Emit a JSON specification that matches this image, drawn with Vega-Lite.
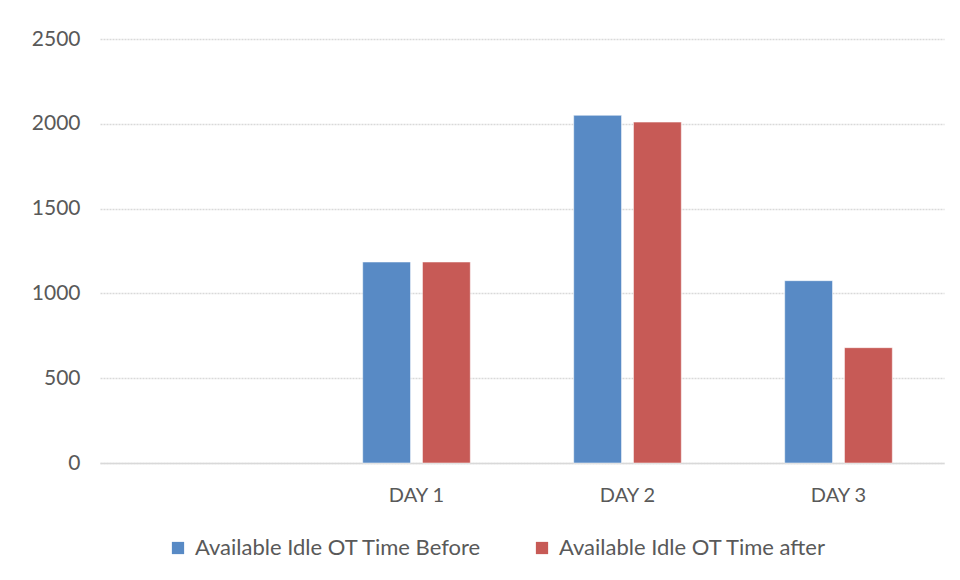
{
  "$schema": "https://vega.github.io/schema/vega-lite/v6.json",
  "width": 844,
  "height": 424,
  "autosize": {"type": "none"},
  "padding": {"left": 100, "top": 39, "right": 16, "bottom": 117},
  "background": "white",
  "data": {
    "values": [
      {"day": "DAY 1", "series": "Available Idle OT Time Before", "value": 1185},
      {"day": "DAY 1", "series": "Available Idle OT Time after", "value": 1185},
      {"day": "DAY 2", "series": "Available Idle OT Time Before", "value": 2050},
      {"day": "DAY 2", "series": "Available Idle OT Time after", "value": 2010},
      {"day": "DAY 3", "series": "Available Idle OT Time Before", "value": 1075},
      {"day": "DAY 3", "series": "Available Idle OT Time after", "value": 680}
    ]
  },
  "mark": {"type": "bar", "stroke": "white", "strokeOpacity": 0.5, "strokeWidth": 1},
  "encoding": {
    "x": {
      "field": "day",
      "type": "nominal",
      "scale": {"domain": [" ", "DAY 1", "DAY 2", "DAY 3"], "paddingInner": 0.49, "paddingOuter": 0.245},
      "axis": {
        "title": null,
        "labelAngle": 0,
        "ticks": false,
        "domainColor": "#d9d9d9",
        "domainWidth": 1.5,
        "labelPadding": 32,
        "labelFont": "Lato",
        "labelFontSize": 20,
        "labelColor": "#595959",
        "labelBaseline": "middle",
        "grid": false
      }
    },
    "xOffset": {
      "field": "series",
      "type": "nominal",
      "sort": ["Available Idle OT Time Before", "Available Idle OT Time after"],
      "scale": {"paddingInner": 0.2, "paddingOuter": 0}
    },
    "y": {
      "field": "value",
      "type": "quantitative",
      "scale": {"domain": [0, 2500], "nice": false},
      "axis": {
        "title": null,
        "values": [0, 500, 1000, 1500, 2000, 2500],
        "format": "d",
        "domain": false,
        "ticks": false,
        "labelPadding": 20,
        "labelFont": "Lato",
        "labelFontSize": 21,
        "labelColor": "#595959",
        "gridColor": "#d9d9d9",
        "gridWidth": 1.5,
        "gridDash": [2, 1]
      }
    },
    "color": {
      "field": "series",
      "type": "nominal",
      "sort": ["Available Idle OT Time Before", "Available Idle OT Time after"],
      "scale": {
        "domain": ["Available Idle OT Time Before", "Available Idle OT Time after"],
        "range": ["#588ac5", "#c75a56"]
      },
      "legend": {
        "title": null,
        "orient": "none",
        "direction": "horizontal",
        "legendX": 67,
        "legendY": 498,
        "symbolType": "square",
        "symbolSize": 150,
        "symbolStrokeWidth": 0,
        "labelFont": "Lato",
        "labelFontSize": 22,
        "labelColor": "#595959",
        "labelOffset": 6,
        "columnPadding": 49,
        "labelLimit": 400
      }
    }
  },
  "config": {"view": {"stroke": null}}
}
